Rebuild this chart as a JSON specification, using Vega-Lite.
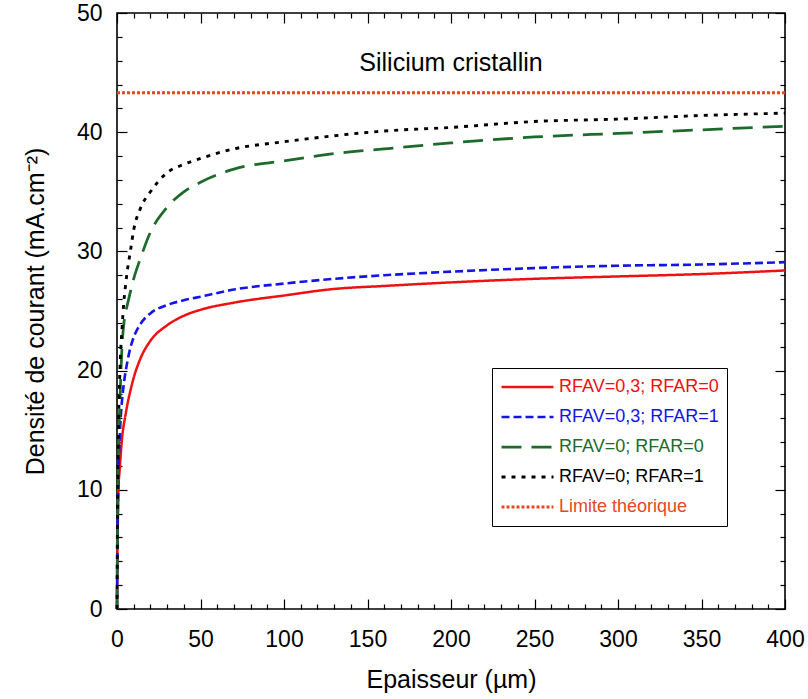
{
  "$schema": "https://vega.github.io/schema/vega-lite/v6.json",
  "width": 668,
  "height": 596,
  "autosize": "none",
  "padding": {"left": 117, "top": 13, "right": 23, "bottom": 90},
  "background": "#ffffff",
  "config": {
    "font": "Liberation Sans",
    "view": {"stroke": "#000000", "strokeWidth": 1.6},
    "axis": {
      "domain": false, "grid": false,
      "labelFont": "Liberation Sans", "labelFontSize": 23, "labelColor": "#000000",
      "titleFont": "Liberation Sans", "titleFontSize": 25, "titleFontWeight": "normal", "titleColor": "#000000",
      "tickColor": "#000000", "tickWidth": 1.2
    }
  },
  "datasets": {
    "curves": [
      {"s": "RFAV=0,3; RFAR=0", "x": 0, "y": 0}, {"s": "RFAV=0,3; RFAR=0", "x": 0.3, "y": 5}, {"s": "RFAV=0,3; RFAR=0", "x": 0.7, "y": 9}, {"s": "RFAV=0,3; RFAR=0", "x": 1, "y": 10.5}, {"s": "RFAV=0,3; RFAR=0", "x": 1.5, "y": 11.5}, {"s": "RFAV=0,3; RFAR=0", "x": 2, "y": 12.5}, {"s": "RFAV=0,3; RFAR=0", "x": 3, "y": 14.3}, {"s": "RFAV=0,3; RFAR=0", "x": 4, "y": 15.4}, {"s": "RFAV=0,3; RFAR=0", "x": 5, "y": 16.2}, {"s": "RFAV=0,3; RFAR=0", "x": 6, "y": 17}, {"s": "RFAV=0,3; RFAR=0", "x": 8, "y": 18.3}, {"s": "RFAV=0,3; RFAR=0", "x": 10, "y": 19.4}, {"s": "RFAV=0,3; RFAR=0", "x": 14, "y": 21}, {"s": "RFAV=0,3; RFAR=0", "x": 20, "y": 22.5}, {"s": "RFAV=0,3; RFAR=0", "x": 30, "y": 23.8}, {"s": "RFAV=0,3; RFAR=0", "x": 40, "y": 24.6}, {"s": "RFAV=0,3; RFAR=0", "x": 50, "y": 25.1}, {"s": "RFAV=0,3; RFAR=0", "x": 70, "y": 25.7}, {"s": "RFAV=0,3; RFAR=0", "x": 100, "y": 26.3}, {"s": "RFAV=0,3; RFAR=0", "x": 130, "y": 26.85}, {"s": "RFAV=0,3; RFAR=0", "x": 160, "y": 27.1}, {"s": "RFAV=0,3; RFAR=0", "x": 200, "y": 27.4}, {"s": "RFAV=0,3; RFAR=0", "x": 250, "y": 27.7}, {"s": "RFAV=0,3; RFAR=0", "x": 300, "y": 27.9}, {"s": "RFAV=0,3; RFAR=0", "x": 350, "y": 28.1}, {"s": "RFAV=0,3; RFAR=0", "x": 400, "y": 28.4},
      {"s": "RFAV=0,3; RFAR=1", "x": 0, "y": 0}, {"s": "RFAV=0,3; RFAR=1", "x": 0.3, "y": 6}, {"s": "RFAV=0,3; RFAR=1", "x": 0.7, "y": 10}, {"s": "RFAV=0,3; RFAR=1", "x": 1, "y": 12}, {"s": "RFAV=0,3; RFAR=1", "x": 1.5, "y": 14}, {"s": "RFAV=0,3; RFAR=1", "x": 2, "y": 15.5}, {"s": "RFAV=0,3; RFAR=1", "x": 3, "y": 17.5}, {"s": "RFAV=0,3; RFAR=1", "x": 4, "y": 18.8}, {"s": "RFAV=0,3; RFAR=1", "x": 5, "y": 19.8}, {"s": "RFAV=0,3; RFAR=1", "x": 6, "y": 20.6}, {"s": "RFAV=0,3; RFAR=1", "x": 8, "y": 21.9}, {"s": "RFAV=0,3; RFAR=1", "x": 10, "y": 22.8}, {"s": "RFAV=0,3; RFAR=1", "x": 14, "y": 23.9}, {"s": "RFAV=0,3; RFAR=1", "x": 20, "y": 24.8}, {"s": "RFAV=0,3; RFAR=1", "x": 30, "y": 25.5}, {"s": "RFAV=0,3; RFAR=1", "x": 40, "y": 25.9}, {"s": "RFAV=0,3; RFAR=1", "x": 50, "y": 26.2}, {"s": "RFAV=0,3; RFAR=1", "x": 70, "y": 26.8}, {"s": "RFAV=0,3; RFAR=1", "x": 100, "y": 27.3}, {"s": "RFAV=0,3; RFAR=1", "x": 130, "y": 27.7}, {"s": "RFAV=0,3; RFAR=1", "x": 160, "y": 28}, {"s": "RFAV=0,3; RFAR=1", "x": 200, "y": 28.3}, {"s": "RFAV=0,3; RFAR=1", "x": 250, "y": 28.6}, {"s": "RFAV=0,3; RFAR=1", "x": 300, "y": 28.8}, {"s": "RFAV=0,3; RFAR=1", "x": 350, "y": 28.9}, {"s": "RFAV=0,3; RFAR=1", "x": 400, "y": 29.1},
      {"s": "RFAV=0; RFAR=0", "x": 0, "y": 0}, {"s": "RFAV=0; RFAR=0", "x": 0.3, "y": 7}, {"s": "RFAV=0; RFAR=0", "x": 0.7, "y": 11}, {"s": "RFAV=0; RFAR=0", "x": 1, "y": 14}, {"s": "RFAV=0; RFAR=0", "x": 1.5, "y": 16.5}, {"s": "RFAV=0; RFAR=0", "x": 2, "y": 18.5}, {"s": "RFAV=0; RFAR=0", "x": 3, "y": 22}, {"s": "RFAV=0; RFAR=0", "x": 4, "y": 23.8}, {"s": "RFAV=0; RFAR=0", "x": 5, "y": 24.8}, {"s": "RFAV=0; RFAR=0", "x": 6, "y": 25.4}, {"s": "RFAV=0; RFAR=0", "x": 8, "y": 26.6}, {"s": "RFAV=0; RFAR=0", "x": 10, "y": 27.7}, {"s": "RFAV=0; RFAR=0", "x": 14, "y": 29.4}, {"s": "RFAV=0; RFAR=0", "x": 20, "y": 31.6}, {"s": "RFAV=0; RFAR=0", "x": 30, "y": 33.7}, {"s": "RFAV=0; RFAR=0", "x": 40, "y": 35}, {"s": "RFAV=0; RFAR=0", "x": 50, "y": 35.8}, {"s": "RFAV=0; RFAR=0", "x": 70, "y": 36.9}, {"s": "RFAV=0; RFAR=0", "x": 100, "y": 37.6}, {"s": "RFAV=0; RFAR=0", "x": 130, "y": 38.2}, {"s": "RFAV=0; RFAR=0", "x": 160, "y": 38.6}, {"s": "RFAV=0; RFAR=0", "x": 200, "y": 39.1}, {"s": "RFAV=0; RFAR=0", "x": 250, "y": 39.6}, {"s": "RFAV=0; RFAR=0", "x": 300, "y": 39.9}, {"s": "RFAV=0; RFAR=0", "x": 350, "y": 40.2}, {"s": "RFAV=0; RFAR=0", "x": 400, "y": 40.5},
      {"s": "RFAV=0; RFAR=1", "x": 0, "y": 0}, {"s": "RFAV=0; RFAR=1", "x": 0.3, "y": 8}, {"s": "RFAV=0; RFAR=1", "x": 0.7, "y": 13}, {"s": "RFAV=0; RFAR=1", "x": 1, "y": 16}, {"s": "RFAV=0; RFAR=1", "x": 1.5, "y": 19}, {"s": "RFAV=0; RFAR=1", "x": 2, "y": 21}, {"s": "RFAV=0; RFAR=1", "x": 3, "y": 23.5}, {"s": "RFAV=0; RFAR=1", "x": 4, "y": 25.6}, {"s": "RFAV=0; RFAR=1", "x": 5, "y": 27}, {"s": "RFAV=0; RFAR=1", "x": 6, "y": 28.2}, {"s": "RFAV=0; RFAR=1", "x": 8, "y": 30}, {"s": "RFAV=0; RFAR=1", "x": 10, "y": 31.8}, {"s": "RFAV=0; RFAR=1", "x": 14, "y": 33.6}, {"s": "RFAV=0; RFAR=1", "x": 20, "y": 35}, {"s": "RFAV=0; RFAR=1", "x": 30, "y": 36.6}, {"s": "RFAV=0; RFAR=1", "x": 40, "y": 37.3}, {"s": "RFAV=0; RFAR=1", "x": 50, "y": 37.8}, {"s": "RFAV=0; RFAR=1", "x": 70, "y": 38.6}, {"s": "RFAV=0; RFAR=1", "x": 100, "y": 39.2}, {"s": "RFAV=0; RFAR=1", "x": 130, "y": 39.7}, {"s": "RFAV=0; RFAR=1", "x": 160, "y": 40.1}, {"s": "RFAV=0; RFAR=1", "x": 200, "y": 40.4}, {"s": "RFAV=0; RFAR=1", "x": 250, "y": 40.9}, {"s": "RFAV=0; RFAR=1", "x": 300, "y": 41.1}, {"s": "RFAV=0; RFAR=1", "x": 350, "y": 41.4}, {"s": "RFAV=0; RFAR=1", "x": 400, "y": 41.6},
      {"s": "Limite théorique", "x": 0, "y": 43.3}, {"s": "Limite théorique", "x": 400, "y": 43.3}
    ],
    "label": [{"t": "Silicium cristallin", "x": 200, "y": 45.8}]
  },
  "resolve": {"axis": {"x": "independent", "y": "independent"}},
  "layer": [
    {
      "data": {"name": "curves"},
      "mark": {"type": "line", "interpolate": "monotone"},
      "encoding": {
        "x": {
          "field": "x", "type": "quantitative",
          "scale": {"domain": [0, 400], "nice": false, "zero": false},
          "axis": {
            "orient": "bottom",
            "values": [0,10,20,30,40,50,60,70,80,90,100,110,120,130,140,150,160,170,180,190,200,210,220,230,240,250,260,270,280,290,300,310,320,330,340,350,360,370,380,390,400],
            "tickSize": {"condition": {"test": "datum.value % 50 === 0", "value": -10}, "value": -5},
            "labelExpr": "datum.value % 50 === 0 ? datum.label : ''",
            "labelPadding": 29, "labelFlush": false, "labelOverlap": false,
            "title": "Epaisseur (µm)", "titlePadding": 11
          }
        },
        "y": {
          "field": "y", "type": "quantitative",
          "scale": {"domain": [0, 50], "nice": false, "zero": false},
          "axis": {
            "orient": "left",
            "values": [0,2,4,6,8,10,12,14,16,18,20,22,24,26,28,30,32,34,36,38,40,42,44,46,48,50],
            "tickSize": {"condition": {"test": "datum.value % 10 === 0", "value": -10}, "value": -5},
            "labelExpr": "datum.value % 10 === 0 ? datum.label : ''",
            "labelPadding": 25, "labelFlush": false, "labelOverlap": false,
            "title": "Densité de courant (mA.cm⁻²)", "titlePadding": 28
          }
        },
        "color": {
          "field": "s", "type": "nominal",
          "scale": {
            "domain": ["RFAV=0,3; RFAR=0", "RFAV=0,3; RFAR=1", "RFAV=0; RFAR=0", "RFAV=0; RFAR=1", "Limite théorique"],
            "range": ["#ee1111", "#1414e6", "#1d6b2a", "#000000", "#e8461e"]
          },
          "legend": {
            "orient": "none", "legendX": 375, "legendY": 355,
            "title": null,
            "symbolType": "stroke", "symbolSize": 2704,
            "clipHeight": 22, "rowPadding": 8,
            "labelFont": "Liberation Sans", "labelFontSize": 18,
            "labelOffset": 4,
            "padding": 8, "strokeColor": "#000000", "fillColor": "#ffffff",
            "encode": {"labels": {"update": {"fill": {"signal": "scale('color', datum.value)"}}}}
          }
        },
        "strokeDash": {
          "field": "s", "type": "nominal",
          "scale": {
            "domain": ["RFAV=0,3; RFAR=0", "RFAV=0,3; RFAR=1", "RFAV=0; RFAR=0", "RFAV=0; RFAR=1", "Limite théorique"],
            "range": [[1, 0], [8, 4], [20, 10], [4, 6], [3, 2]]
          }
        },
        "strokeWidth": {
          "field": "s", "type": "nominal",
          "scale": {
            "domain": ["RFAV=0,3; RFAR=0", "RFAV=0,3; RFAR=1", "RFAV=0; RFAR=0", "RFAV=0; RFAR=1", "Limite théorique"],
            "range": [2.5, 3, 3, 3.5, 2]
          }
        }
      }
    },
    {
      "data": {"name": "label"},
      "mark": {"type": "text", "font": "Liberation Sans", "fontSize": 25, "baseline": "middle", "align": "center", "color": "#000000"},
      "encoding": {
        "x": {
          "field": "x", "type": "quantitative",
          "axis": {
            "orient": "top",
            "values": [0,10,20,30,40,50,60,70,80,90,100,110,120,130,140,150,160,170,180,190,200,210,220,230,240,250,260,270,280,290,300,310,320,330,340,350,360,370,380,390,400],
            "tickSize": {"condition": {"test": "datum.value % 50 === 0", "value": -10}, "value": -5},
            "labels": false, "title": null
          }
        },
        "y": {
          "field": "y", "type": "quantitative",
          "axis": {
            "orient": "right",
            "values": [0,2,4,6,8,10,12,14,16,18,20,22,24,26,28,30,32,34,36,38,40,42,44,46,48,50],
            "tickSize": {"condition": {"test": "datum.value % 10 === 0", "value": -10}, "value": -5},
            "labels": false, "title": null
          }
        },
        "text": {"field": "t"}
      }
    }
  ]
}
